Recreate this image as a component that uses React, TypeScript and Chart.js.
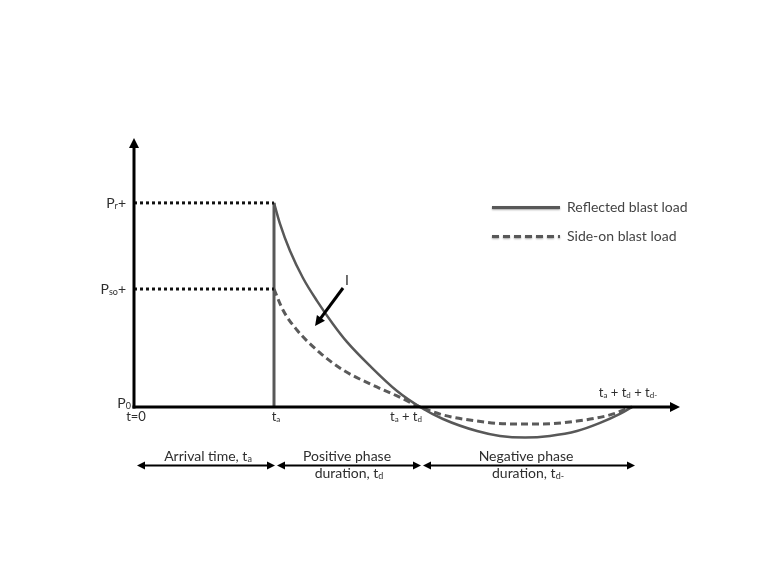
import React, { useEffect, useRef } from "react";
import { Chart, registerables } from "chart.js";

Chart.register(...registerables);

// ---- data (time in units of arrival time, pressure relative to Pr+) ----
const T_A = 1.0; // arrival time
const T_AD = 2.043; // end of positive phase
const T_END = 3.557; // end of negative phase
const P_R = 1.0; // reflected peak
const P_SO = 0.578; // side-on peak
const P_0 = 0; // ambient
const X_MAX = 3.9;
const Y_MAX = 1.318;
const Y_MIN = -0.5;

const reflectedX = [1.0, 1.043, 1.114, 1.207, 1.307, 1.421, 1.521, 1.686, 1.879, 2.043, 2.207, 2.45, 2.614, 2.793, 2.971, 3.164, 3.329, 3.471, 3.557];
const reflectedY = [1.0, 0.897, 0.765, 0.632, 0.520, 0.407, 0.319, 0.201, 0.078, 0, -0.059, -0.118, -0.142, -0.150, -0.142, -0.118, -0.078, -0.034, 0];

const sideOnX = [1.0, 1.064, 1.164, 1.329, 1.493, 1.686, 1.879, 2.043, 2.207, 2.45, 2.686, 2.921, 3.164, 3.4, 3.557];
const sideOnY = [0.578, 0.475, 0.377, 0.265, 0.181, 0.113, 0.054, 0, -0.039, -0.069, -0.083, -0.083, -0.069, -0.039, 0];

const seriesNames = ["Reflected blast load", "Side-on blast load"];

type Seg = [string, boolean]; // [text, isSubscript]

const yLabelValues = [P_R, P_SO, P_0];
const yLabelTexts: Seg[][] = [
  [["P", false], ["r", true], ["+", false]],
  [["P", false], ["so", true], ["+", false]],
  [["P", false], ["0", true]],
];

const xLabelValues = [0, T_A, T_AD];
const xLabelTexts: Seg[][] = [
  [["t=0", false]],
  [["t", false], ["a", true]],
  [["t", false], ["a", true], [" + t", false], ["d", true]],
];
const endLabel: Seg[] = [["t", false], ["a", true], [" + t", false], ["d", true], [" + t", false], ["d-", true]];

const phaseBounds = [0, T_A, T_AD, T_END];
const phaseLine1: Seg[][] = [
  [["Arrival time, t", false], ["a", true]],
  [["Positive phase", false]],
  [["Negative phase", false]],
];
const phaseLine2: Seg[][] = [
  [],
  [["duration, t", false], ["d", true]],
  [["duration, t", false], ["d-", true]],
];

const impulseLabel = "I";
const impulseFrom = { x: 1.493, y: 0.583 };
const impulseTo = { x: 1.293, y: 0.397 };

const FONT = "Lato, 'Open Sans', sans-serif";
const CURVE = "#585858";
const TEXT = "#2e2e2e";

function rich(ctx: CanvasRenderingContext2D, segs: Seg[], x: number, y: number, align: string, size: number, color = TEXT) {
  ctx.save();
  ctx.fillStyle = color;
  ctx.textBaseline = "alphabetic";
  ctx.textAlign = "left";
  const sub = Math.round(size * 0.62);
  let w = 0;
  for (const [t, s] of segs) {
    ctx.font = `${s ? sub : size}px ${FONT}`;
    w += ctx.measureText(t).width;
  }
  let cx = align === "left" ? x : align === "center" ? x - w / 2 : x - w;
  for (const [t, s] of segs) {
    ctx.font = `${s ? sub : size}px ${FONT}`;
    ctx.fillText(t, cx, s ? y + 1 : y);
    cx += ctx.measureText(t).width;
  }
  ctx.restore();
}

function head(ctx: CanvasRenderingContext2D, x1: number, y1: number, x2: number, y2: number, len: number, half: number) {
  const a = Math.atan2(y2 - y1, x2 - x1);
  const bx = x2 - len * Math.cos(a);
  const by = y2 - len * Math.sin(a);
  ctx.beginPath();
  ctx.moveTo(x2, y2);
  ctx.lineTo(bx + half * Math.sin(a), by - half * Math.cos(a));
  ctx.lineTo(bx - half * Math.sin(a), by + half * Math.cos(a));
  ctx.closePath();
  ctx.fill();
}

function arrow(ctx: CanvasRenderingContext2D, x1: number, y1: number, x2: number, y2: number, width: number, len: number, half: number) {
  const a = Math.atan2(y2 - y1, x2 - x1);
  ctx.lineWidth = width;
  ctx.beginPath();
  ctx.moveTo(x1, y1);
  ctx.lineTo(x2 - (len - 1) * Math.cos(a), y2 - (len - 1) * Math.sin(a));
  ctx.stroke();
  head(ctx, x1, y1, x2, y2, len, half);
}

const schematic = {
  id: "schematic",
  afterDatasetsDraw(chart: any) {
    const ctx: CanvasRenderingContext2D = chart.ctx;
    const xs = chart.scales.x;
    const ys = chart.scales.y;
    const X = (v: number) => xs.getPixelForValue(v);
    const Y = (v: number) => ys.getPixelForValue(v);
    ctx.save();
    ctx.strokeStyle = "#000";
    ctx.fillStyle = "#000";
    // axes
    const x0 = X(0);
    const y0 = Y(P_0);
    arrow(ctx, x0, y0 + 1.5, x0, Y(Y_MAX), 3, 10, 5);
    arrow(ctx, x0 - 1.5, y0, X(X_MAX), y0, 3, 10, 5);

    // y labels
    const yOffsets = [5, 5, 1];
    const yRight = [126, 126, 131];
    yLabelValues.forEach((v, i) => {
      rich(ctx, yLabelTexts[i], yRight[i], Y(v) + yOffsets[i], "right", 14);
    });
    // x labels
    const xShift = [2, 2, -14];
    xLabelValues.forEach((v, i) => {
      rich(ctx, xLabelTexts[i], X(v) + xShift[i], y0 + 14, "center", 13);
    });
    rich(ctx, endLabel, X(T_END) - 4, y0 - 10, "center", 13);

    // impulse arrow
    ctx.fillStyle = "#000";
    ctx.strokeStyle = "#000";
    arrow(ctx, X(impulseFrom.x), Y(impulseFrom.y), X(impulseTo.x), Y(impulseTo.y), 3, 10, 5);
    rich(ctx, [[impulseLabel, false]], X(impulseFrom.x) + 4, Y(impulseFrom.y) - 3, "center", 14);

    // phase arrows
    const ay = 465.5;
    ctx.fillStyle = "#000";
    ctx.strokeStyle = "#000";
    for (let i = 0; i < 3; i++) {
      const a = X(phaseBounds[i]) + 3;
      const b = X(phaseBounds[i + 1]) + (i === 2 ? 3 : 1);
      const m = (a + b) / 2;
      arrow(ctx, m, ay, a, ay, 2, 8, 4);
      arrow(ctx, m, ay, b, ay, 2, 8, 4);
      const cx = (X(phaseBounds[i]) + X(phaseBounds[i + 1])) / 2;
      rich(ctx, phaseLine1[i], cx + (i === 0 ? 4 : 0), 461, "center", 14);
      if (phaseLine2[i].length) rich(ctx, phaseLine2[i], cx + 2, 478, "center", 14);
    }

    // legend
    ctx.save();
    ctx.strokeStyle = CURVE;
    ctx.lineWidth = 3;
    ctx.shadowColor = "rgba(0,0,0,0.35)";
    ctx.shadowBlur = 2;
    ctx.shadowOffsetY = 1;
    ctx.beginPath();
    ctx.moveTo(492, 207.5);
    ctx.lineTo(560, 207.5);
    ctx.stroke();
    ctx.setLineDash([7, 4]);
    ctx.beginPath();
    ctx.moveTo(492, 236.5);
    ctx.lineTo(560, 236.5);
    ctx.stroke();
    ctx.restore();
    rich(ctx, [[seriesNames[0], false]], 567, 212, "left", 14, "#444");
    rich(ctx, [[seriesNames[1], false]], 567, 241, "left", 14, "#444");

    ctx.restore();
  },
};

export default function App() {
  const ref = useRef<HTMLCanvasElement | null>(null);
  useEffect(() => {
    if (!ref.current) return;
    const pts = (xa: number[], ya: number[]) => xa.map((x, i) => ({ x, y: ya[i] }));
    const chart = new Chart(ref.current, {
      type: "line",
      data: {
        datasets: [
          {
            label: "Pr dotted",
            data: [{ x: 0, y: P_R }, { x: T_A, y: P_R }],
            borderColor: "#111",
            borderWidth: 3,
            borderDash: [3, 3],
            pointRadius: 0,
            clip: false,
          },
          {
            label: "Pso dotted",
            data: [{ x: 0, y: P_SO }, { x: T_A, y: P_SO }],
            borderColor: "#111",
            borderWidth: 3,
            borderDash: [3, 3],
            pointRadius: 0,
            clip: false,
          },
          {
            label: "front",
            data: [{ x: T_A, y: P_0 }, { x: T_A, y: P_R }],
            borderColor: CURVE,
            borderWidth: 3,
            pointRadius: 0,
            clip: false,
          },
          {
            label: seriesNames[1],
            data: pts(sideOnX, sideOnY),
            borderColor: "#5a5a5a",
            borderWidth: 3,
            borderDash: [7, 4],
            cubicInterpolationMode: "monotone",
            pointRadius: 0,
            clip: false,
          },
          {
            label: seriesNames[0],
            data: pts(reflectedX, reflectedY),
            borderColor: CURVE,
            borderWidth: 2.5,
            cubicInterpolationMode: "monotone",
            pointRadius: 0,
            clip: false,
          },
        ],
      } as any,
      options: {
        animation: false,
        responsive: false,
        devicePixelRatio: 1,
        layout: { padding: { left: 134, right: 80, top: 138, bottom: 61 } },
        plugins: { legend: { display: false }, tooltip: { enabled: false } },
        scales: {
          x: { type: "linear", min: 0, max: X_MAX, display: false },
          y: { type: "linear", min: Y_MIN, max: Y_MAX, display: false },
        },
      } as any,
      plugins: [schematic],
    });
    return () => chart.destroy();
  }, []);
  return (
    <div style={{ position: "absolute", left: 0, top: 0, width: 760, height: 570, background: "#fff" }}>
      <canvas ref={ref} width={760} height={570} style={{ width: 760, height: 570 }} />
    </div>
  );
}
